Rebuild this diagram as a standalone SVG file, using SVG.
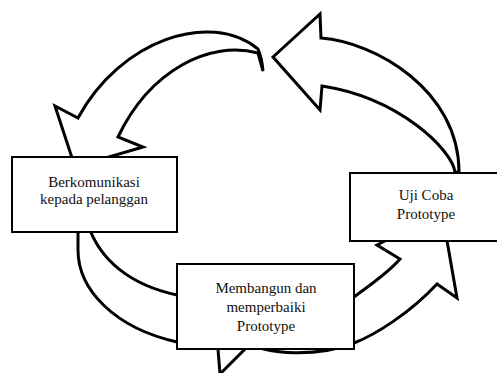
<svg xmlns="http://www.w3.org/2000/svg" width="497" height="373" viewBox="0 0 497 373">
<style>
.arrow{fill:#fff;stroke:#000;stroke-width:3;stroke-linejoin:miter;stroke-miterlimit:10}
.box{fill:#fff;stroke:#000;stroke-width:2}
text{font-family:"Times New Roman","Liberation Serif",serif;font-size:15px;fill:#111;text-anchor:middle}
</style>
<rect width="497" height="373" fill="#fff"/>
<g id="connectors">
<path id="arrow-top-left" class="arrow" d="M263,71 L258,53 C210,40 150,70 118,137 L143,147 L75,167 L55,106 L78,118 C120,40 210,10 258,49 Q262,58 263,71 Z"/>
<path id="arrow-top-right" class="arrow" d="M273,57 L320,14 L321,38 C375,42 459,90 459,172 L455,172 C452,150 400,98 322,86 L320,110 Z"/>
<path id="arrow-left-bottom" class="arrow" d="M78,225 L78,250 C78,290 115,328 177,342 L200,346 L217,337 L220,374 L257,337 L240,330 L177,295 C130,285 100,260 88,225 Z"/>
<path id="arrow-bottom-right" class="arrow" d="M240,340 C270,357 320,356 354,343 C375,335 410,313 437,284 L457,298 L442,212 L377,245 L400,259 C388,273 370,285 354,297 L300,300 Z"/>
</g>
<g id="node-berkomunikasi">
<rect class="box" x="12" y="157" width="165" height="75"/>
<text x="94" y="187">Berkomunikasi</text>
<text x="94" y="204">kepada pelanggan</text>
</g>
<g id="node-uji-coba">
<rect class="box" x="350" y="173" width="152" height="68"/>
<text x="426" y="200">Uji Coba</text>
<text x="426" y="219">Prototype</text>
</g>
<g id="node-membangun">
<rect class="box" x="177" y="264" width="177" height="85"/>
<text x="266" y="293">Membangun dan</text>
<text x="266" y="312">memperbaiki</text>
<text x="266" y="331">Prototype</text>
</g>
</svg>
